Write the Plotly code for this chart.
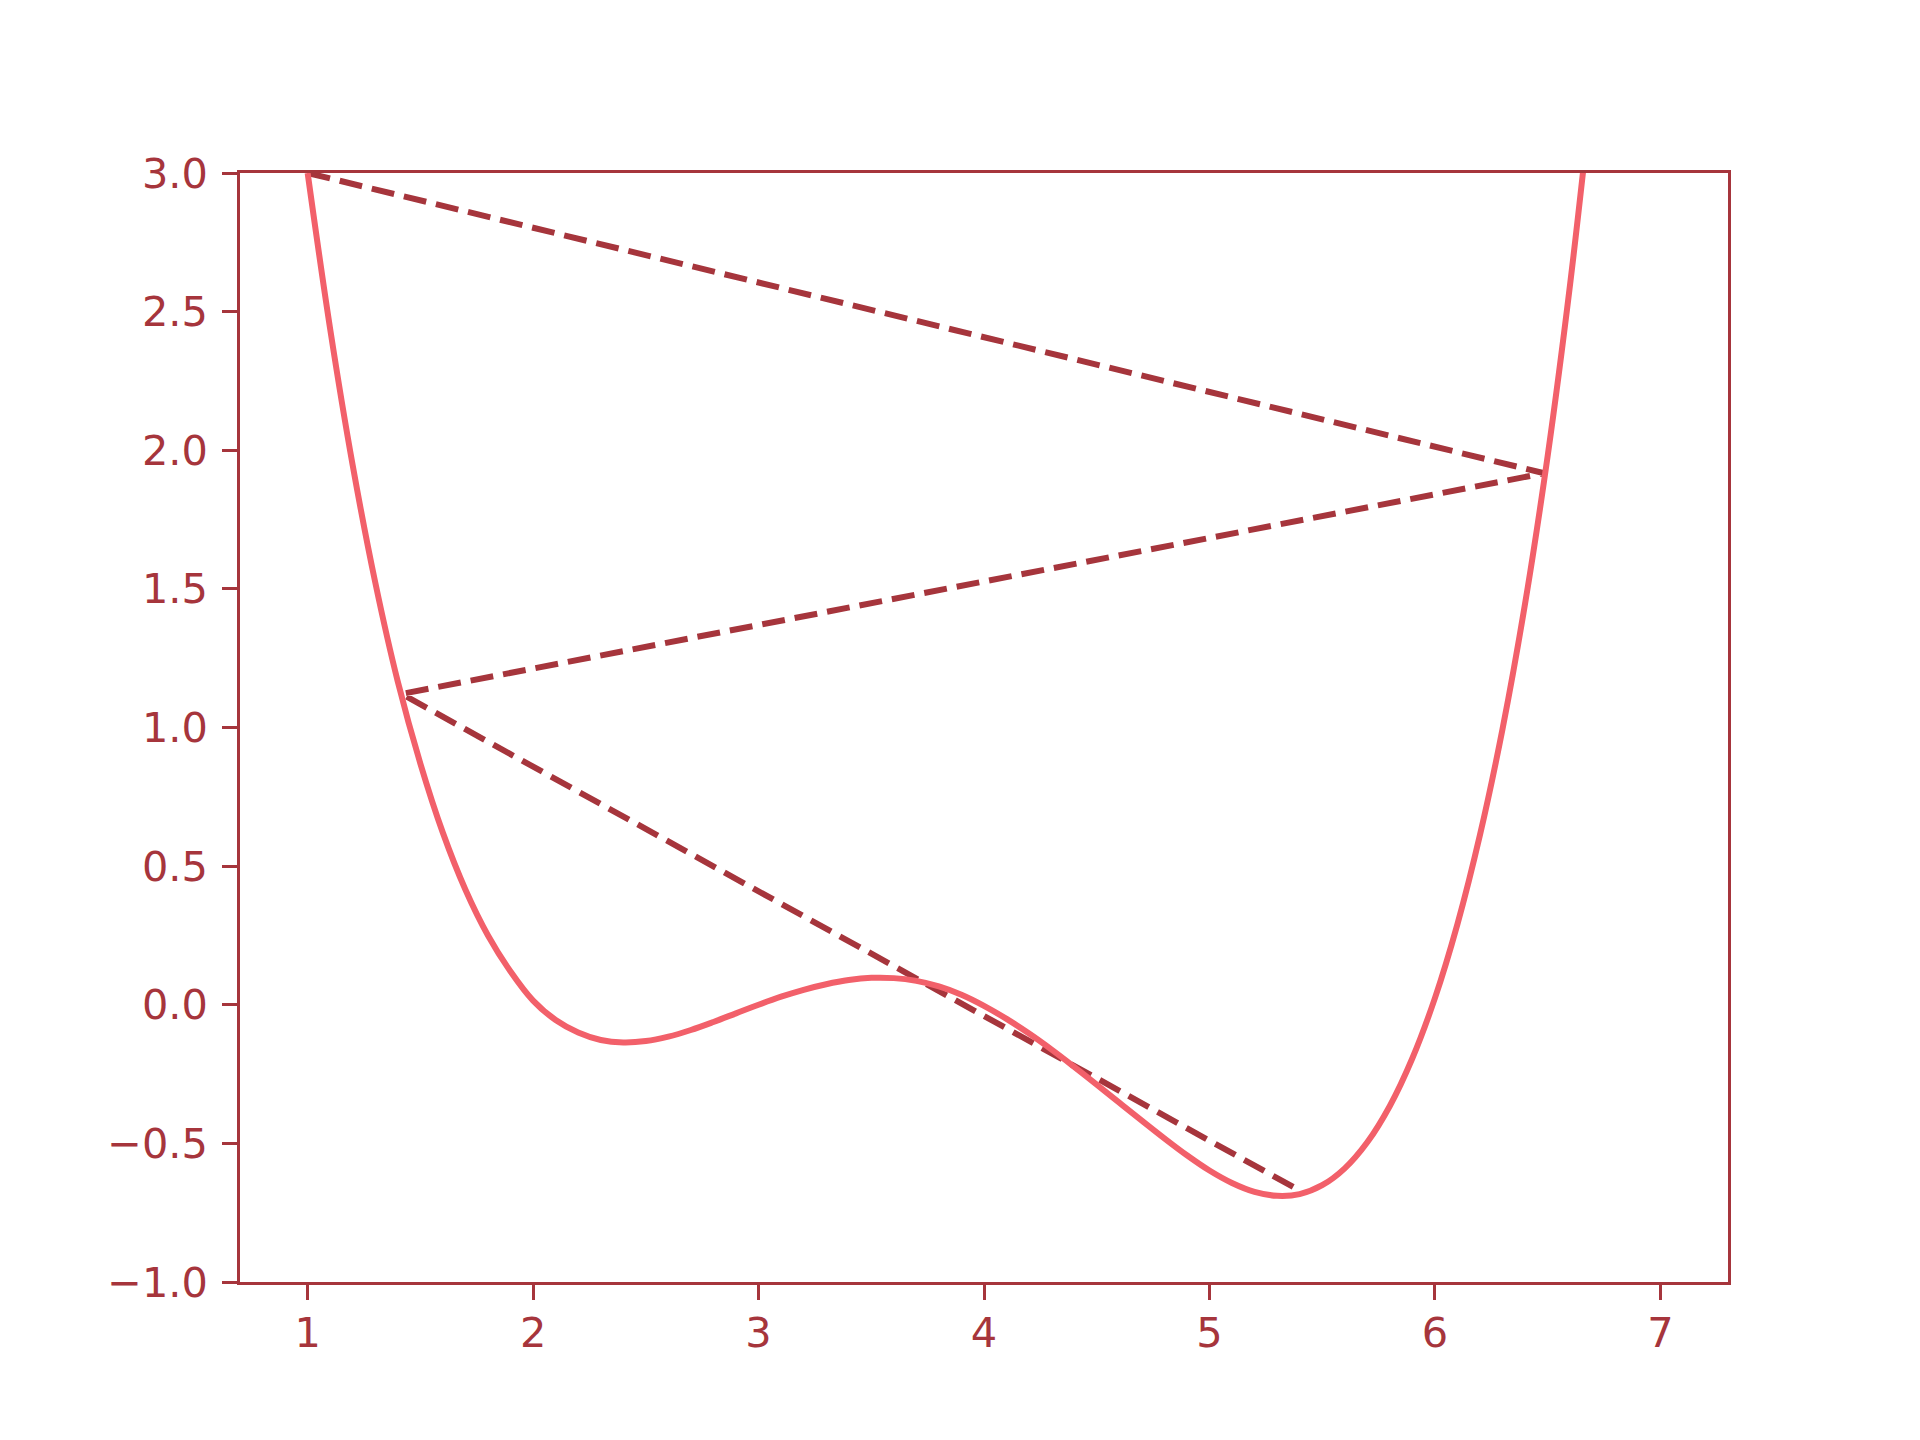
import plotly.graph_objects as go

# curve values
curve_x = [1.0, 1.1, 1.2, 1.3, 1.4, 1.5, 1.6, 1.7, 1.8, 1.9, 2.0, 2.1, 2.2, 2.3,
           2.4, 2.5, 2.6, 2.7, 2.8, 2.9, 3.0, 3.1, 3.2, 3.3, 3.4, 3.5, 3.6,
           3.7, 3.8, 3.9, 4.0, 4.1, 4.2, 4.3, 4.4, 4.5, 4.6, 4.7, 4.8, 4.9,
           5.0, 5.1, 5.2, 5.3, 5.4, 5.5, 5.6, 5.7, 5.8, 5.9, 6.0, 6.1, 6.2,
           6.3, 6.4, 6.5, 6.6, 6.7]
curve_y = [3.0, 2.437, 1.945, 1.523, 1.165, 0.87, 0.62, 0.415, 0.25, 0.12,
           0.015, -0.055, -0.10, -0.127, -0.136, -0.131, -0.115, -0.091, -0.062,
           -0.031, 0.0, 0.029, 0.054, 0.074, 0.089, 0.097, 0.096, 0.086, 0.066,
           0.036, -0.004, -0.051, -0.104, -0.162, -0.224, -0.288, -0.353, -0.418,
           -0.482, -0.543, -0.598, -0.643, -0.675, -0.689, -0.683, -0.651, -0.590,
           -0.496, -0.365, -0.193, 0.024, 0.291, 0.613, 0.995, 1.447, 1.979,
           2.601, 3.323]

# dashed path between the visited points
path_x = [1.0, 6.485, 1.417, 5.40]
path_y = [3.0, 1.917, 1.121, -0.67]

x_ticks = [1, 2, 3, 4, 5, 6, 7]
x_labels = ['1', '2', '3', '4', '5', '6', '7']
y_ticks = [-1.0, -0.5, 0.0, 0.5, 1.0, 1.5, 2.0, 2.5, 3.0]
y_labels = ['\u22121.0', '\u22120.5', '0.0', '0.5', '1.0', '1.5', '2.0', '2.5', '3.0']

dark = '#a6353c'
light = '#f2606a'

fig = go.Figure()
fig.add_trace(go.Scatter(x=path_x, y=path_y, mode='lines',
                         line=dict(color=dark, width=6, dash='23px,10px')))
fig.add_trace(go.Scatter(x=curve_x, y=curve_y, mode='lines',
                         line=dict(color=light, width=6, shape='spline', smoothing=1.0)))

axis_common = dict(
    showgrid=False, zeroline=False,
    showline=True, linecolor=dark, linewidth=3.3, mirror=True,
    ticks='outside', ticklen=14.6, tickwidth=3.3, tickcolor=dark,
    tickfont=dict(family='DejaVu Sans', size=41.5, color=dark),
)

fig.update_xaxes(range=[0.7, 7.3], tickvals=x_ticks, ticktext=x_labels,
                 ticklabelstandoff=-3, **axis_common)
fig.update_yaxes(range=[-1.0, 3.0], tickvals=y_ticks, ticktext=y_labels,
                 ticklabelstandoff=6, **axis_common)

# page body adds an 8px offset, so shrink the figure to keep the axes in place
fig.update_layout(
    width=1904, height=1424,
    margin=dict(l=232, r=184, t=165, b=150),
    paper_bgcolor='white', plot_bgcolor='white',
    showlegend=False,
)

fig.write_html("out.html")
